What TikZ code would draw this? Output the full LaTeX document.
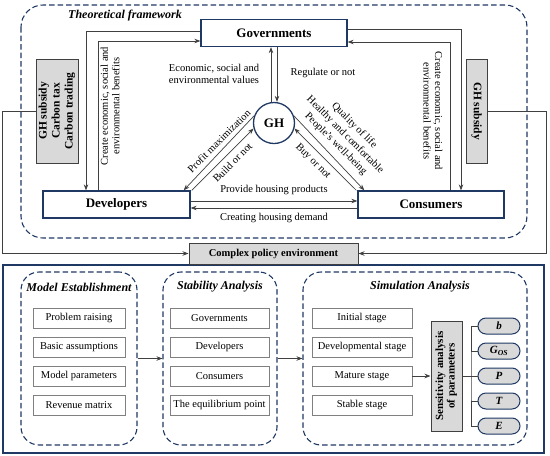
\documentclass[tikz,border=0pt]{standalone}
\usepackage{fontspec}
\usepackage{graphicx}
\setmainfont{Liberation Serif}
\usetikzlibrary{arrows.meta,calc}
\definecolor{dblue}{HTML}{1F3864}
\definecolor{gfill}{HTML}{D9D9D9}
\definecolor{lgray}{HTML}{808080}
\newcommand\fsz[2]{\fontsize{#1}{#2}\selectfont}
\begin{document}
\begin{tikzpicture}[x=1pt,y=1pt,
  mainbox/.style={draw=dblue, line width=1.3pt, fill=white, font=\fsz{13}{15}\bfseries, inner sep=0pt, minimum height=27pt},
  conn/.style={draw=black!75, line width=0.7pt},
  arr/.style={conn, -{Stealth[length=6pt,width=4.5pt]}},
  lbl/.style={font=\fsz{10.5}{11.5}, inner sep=0pt, align=center},
  graybox/.style={draw=black!75, line width=1pt, fill=gfill, font=\fsz{11.5}{13}\bfseries, align=center, inner sep=0pt},
  dashbox/.style={draw=dblue, line width=1.1pt, dash pattern=on 5.5pt off 3pt, rounded corners=18pt, inner sep=0pt},
  item/.style={draw=lgray, line width=0.8pt, fill=white, font=\fsz{10.5}{12}, minimum height=20pt, inner sep=0pt},
  ttl/.style={font=\fsz{12}{14}\bfseries\itshape, inner sep=0pt},
  pill/.style={draw=dblue, line width=1pt, fill=gfill, rounded corners=8pt, minimum width=42pt, minimum height=16pt, font=\fsz{11}{12}\bfseries\itshape, inner sep=0pt}
]
\useasboundingbox (0,0) rectangle (550,-456);

% theoretical framework frame
\draw[dashbox, rounded corners=22pt] (21,-5) rectangle (527,-238);
\node[ttl] (tft) at (125,-16) {Theoretical framework};

% main actors
\node[mainbox, minimum width=146pt] (gov) at (274,-33) {Governments};
\node[mainbox, minimum width=147pt] (dev) at (116.5,-204.5) {Developers};
\node[mainbox, minimum width=146pt] (con) at (431,-204.5) {Consumers};
\node[circle, draw=dblue, line width=1.3pt, fill=white, minimum size=41pt, inner sep=0pt, font=\fsz{13}{15}\bfseries] (gh) at (274,-123) {GH};

% governments connectors
\draw[arr] ([yshift=2pt]gov.west) -| ([xshift=-30.5pt]dev.north);
\draw[arr] ([xshift=-18.5pt]dev.north) |- ([yshift=-8pt]gov.west);
\draw[arr] ([yshift=4pt]gov.east) -| ([xshift=30pt]con.north);
\draw[arr] ([xshift=19pt]con.north) |- ([yshift=-9pt]gov.east);

% gov - GH
\draw[arr] ([xshift=-3pt]gh.north) -- ([xshift=-3pt]gh.north |- gov.south);
\draw[arr] ([xshift=3pt]gh.north |- gov.south) -- ([xshift=3pt]gh.north);

% diagonals
\draw[arr] (gh.160) -- ([xshift=-7pt]dev.north east);
\draw[arr] ([xshift=1pt]dev.north east) -- (gh.195);
\draw[arr] (gh.20) -- ([xshift=7pt]con.north west);
\draw[arr] ([xshift=-1pt]con.north west) -- (gh.345);

% horizontal
\draw[arr] ([yshift=3.5pt]dev.east) -- ([yshift=3.5pt]dev.east -| con.west);
\draw[arr] ([yshift=-3.5pt]con.west) -- ([yshift=-3.5pt]con.west -| dev.east);

% labels
\node[lbl] (l1) at (214,-74) {Economic, social and\\environmental values};
\node[lbl] (l2) at (323,-73) {Regulate or not};
\node[lbl, rotate=45] (l3) at (219,-141) {Profit maximization};
\node[lbl, rotate=45] (l4) at (232.5,-162.5) {Build or not};
\node[lbl, rotate=-45] (l5) at (313,-161.5) {Buy or not};
\node[lbl, rotate=-45, font=\fsz{10.5}{13}] (l6) at (345,-135) {Quality of life\\Healthy and comfortable\\People's well-being};
\node[lbl] (l7) at (274,-190) {Provide housing products};
\node[lbl] (l8) at (274,-218) {Creating housing demand};
\node[lbl, rotate=90] (l9) at (110,-106) {Create economic, social and\\environmental benefits};
\node[lbl, rotate=-90] (l10) at (433,-111) {Create economic, social and\\environmental benefits};

% policy boxes
\node[graybox, minimum width=42pt, minimum height=104pt] (lg) at (57,-111) {\rotatebox{90}{\begin{tabular}{@{}c@{}}GH subsidy\\Carbon tax\\Carbon trading\end{tabular}}};
\node[graybox, minimum width=21pt, minimum height=104pt] (rg) at (476.5,-111) {\rotatebox{-90}{GH subsidy}};

% bottom frame
\draw[draw=dblue, line width=1.3pt] (3,-265) rectangle (544,-453);

\node[graybox, minimum width=169pt, minimum height=21pt, font=\fsz{10.5}{12}\bfseries] (pol) at (273.5,-253.5) {Complex policy environment};
\draw[arr] (lg.west) -- ++(-33pt,0) |- (pol.west);
\draw[arr] (rg.east) -- ++(59pt,0) |- (pol.east);

% bottom sub-frames
\node[dashbox, minimum width=116pt, minimum height=173pt] (mdl) at (79,-358.5) {};
\node[dashbox, minimum width=114pt, minimum height=173pt] (stb) at (220,-358.5) {};
\node[dashbox, minimum width=224pt, minimum height=173pt] (sim) at (415,-358.5) {};
\node[ttl] (t1) at (79,-287) {Model Establishment};
\node[ttl] (t2) at (220,-287) {Stability Analysis};
\node[ttl] (t3) at (420,-287) {Simulation Analysis};

\node[item, minimum width=92pt] (m1) at (79,-318) {Problem raising};
\node[item, minimum width=92pt] (m2) at (79,-347) {Basic assumptions};
\node[item, minimum width=92pt] (m3) at (79,-376) {Model parameters};
\node[item, minimum width=92pt] (m4) at (79,-405) {Revenue matrix};

\node[item, minimum width=99pt] (s1) at (219.5,-318) {Governments};
\node[item, minimum width=99pt] (s2) at (219.5,-347) {Developers};
\node[item, minimum width=99pt] (s3) at (219.5,-376) {Consumers};
\node[item, minimum width=99pt] (s4) at (219.5,-405) {The equilibrium point};

\node[item, minimum width=100pt] (r1) at (362,-318) {Initial stage};
\node[item, minimum width=100pt] (r2) at (362,-347) {Developmental stage};
\node[item, minimum width=100pt] (r3) at (362,-376) {Mature stage};
\node[item, minimum width=100pt] (r4) at (362,-405) {Stable stage};

\draw[arr] (mdl.east) -- (stb.west);
\draw[arr] (stb.east) -- (sim.west);

\node[graybox, minimum width=31pt, minimum height=110pt, font=\fsz{11}{11.5}\bfseries] (sens) at (446.5,-376) {\rotatebox{90}{\begin{tabular}{@{}c@{}}Sensitivity analysis\\of parameters\end{tabular}}};
\draw[arr] (r3.east) -- (sens.west);

\node[pill] (p1) at (499,-326) {b};
\node[pill] (p2) at (499,-351) {G\textsubscript{OS}};
\node[pill] (p3) at (499,-376) {P};
\node[pill] (p4) at (499,-401) {T};
\node[pill] (p5) at (499,-426) {E};

\coordinate (br) at (471,-376);
\draw[conn] (sens.east) -- (br);
\draw[conn] (p1.west) -| (br) |- (p5.west);
\draw[conn] (p2.west) -- (p2.west -| br);
\draw[conn] (p3.west) -- (p3.west -| br);
\draw[conn] (p4.west) -- (p4.west -| br);
\end{tikzpicture}
\end{document}
